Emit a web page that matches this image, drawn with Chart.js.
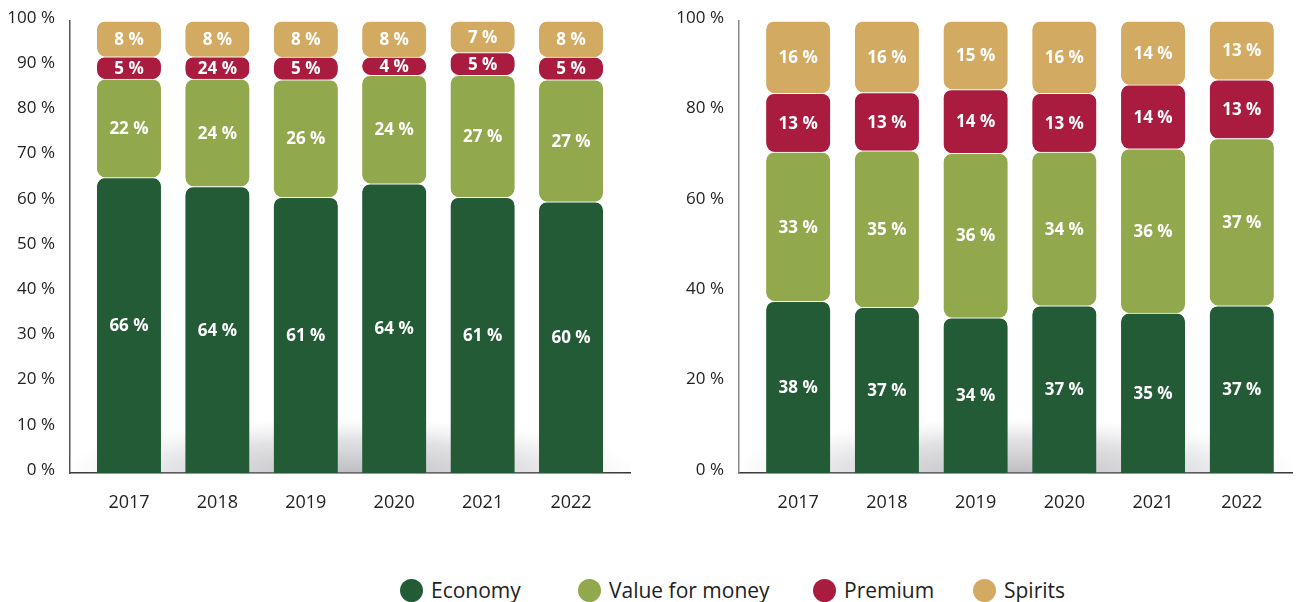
<!DOCTYPE html>
<html>
<head>
<meta charset="utf-8">
<script src="https://cdn.jsdelivr.net/npm/chart.js@4.4.0/dist/chart.umd.min.js"></script>
<style>
  html, body { margin:0; padding:0; background:#fff; width:1302px; height:602px; overflow:hidden; }
  .wrap { position:absolute; top:0; height:530px; }
  #wl { left:0; width:650px; }
  #wr { left:660px; width:642px; }
  .lg { position:absolute; top:578px; height:24px; display:flex; align-items:center;
        font-family:"Open Sans", sans-serif; font-size:21px; color:#222; white-space:nowrap; }
  .lg span.dot { display:inline-block; width:23px; height:23px; border-radius:50%; margin-right:8px; }
</style>
</head>
<body>
<div class="wrap" id="wl"><canvas id="cl"></canvas></div>
<div class="wrap" id="wr"><canvas id="cr"></canvas></div>
<div id="legend"></div>
<script>
// ---------- data ----------
const categories = [2017, 2018, 2019, 2020, 2021, 2022];
const seriesNames = ['Economy', 'Value for money', 'Premium', 'Spirits'];
const seriesColors = ['#235b37', '#92a84c', '#a91c3f', '#d3aa62'];

const leftEconomy = [66, 64, 61, 64, 61, 60];
const leftValue   = [22, 24, 26, 24, 27, 27];
const leftPremium = [5, 5, 5, 4, 5, 5];
const leftPremiumPrinted = [5, 24, 5, 4, 5, 5];   // label as printed in the source
const leftSpirits = [8, 8, 8, 8, 7, 8];

const rightEconomy = [38, 37, 34, 37, 35, 37];
const rightValue   = [33, 35, 36, 34, 36, 37];
const rightPremium = [13, 13, 14, 13, 14, 13];
const rightSpirits = [16, 16, 15, 16, 14, 13];

const leftTicks  = [0, 10, 20, 30, 40, 50, 60, 70, 80, 90, 100];
const rightTicks = [0, 20, 40, 60, 80, 100];

// ---------- helpers ----------
function shares(all) {
  // 100 % stacked: each year's segments scaled to the column total
  return all.map(s => s.map((v, j) => {
    const tot = all.reduce((a, t) => a + t[j], 0);
    return v / tot * 100;
  }));
}

const segLabelPlugin = {
  id: 'segLabels',
  afterDatasetsDraw(chart) {
    const ctx = chart.ctx;
    ctx.save();
    ctx.fillStyle = '#ffffff';
    ctx.font = 'bold 17px "Open Sans", sans-serif';
    ctx.textAlign = 'center';
    ctx.textBaseline = 'middle';
    chart.data.datasets.forEach((ds, i) => {
      const meta = chart.getDatasetMeta(i);
      meta.data.forEach((bar, j) => {
        const p = bar.getProps(['x', 'y', 'base'], true);
        ctx.fillText(ds.printed[j] + ' %', p.x, (p.y + p.base) / 2 + 1);
      });
    });
    ctx.restore();
  }
};

const shadowPlugin = {
  id: 'floorShadow',
  beforeDatasetsDraw(chart) {
    const {ctx, chartArea: a} = chart;
    ctx.save();
    ctx.beginPath();
    ctx.rect(a.left + 1, a.top, a.right - a.left, a.bottom - a.top);
    ctx.clip();
    const cx = (a.left + a.right) / 2;
    const rx = (a.right - a.left) / 2 + 10;
    const ry = 55;
    ctx.translate(cx, a.bottom);
    ctx.scale(1, ry / rx);
    const g = ctx.createRadialGradient(0, 0, 0, 0, 0, rx);
    g.addColorStop(0, 'rgba(145,145,152,0.6)');
    g.addColorStop(0.6, 'rgba(170,170,178,0.35)');
    g.addColorStop(1, 'rgba(200,200,205,0)');
    ctx.fillStyle = g;
    ctx.fillRect(-rx, -rx, rx * 2, rx);
    ctx.restore();
  }
};

function makeChart(id, raw, printed, ticks, xMax, yAxisWidth, yBorderColor, padRight) {
  const vals = shares(raw);
  const datasets = seriesNames.map((name, i) => ({
    label: name,
    data: categories.map((c, j) => ({ x: c, y: vals[i][j] })),
    printed: printed[i],
    backgroundColor: seriesColors[i],
    borderColor: '#ffffff',
    borderWidth: {top: 1, bottom: 0, left: 0, right: 0},
    borderSkipped: false,
    borderRadius: i === 0 ? {topLeft: 9, topRight: 9, bottomLeft: 0, bottomRight: 0}
                          : {topLeft: 9, topRight: 9, bottomLeft: 9, bottomRight: 9},
    barThickness: 64,
    stack: 's'
  }));
  return new Chart(document.getElementById(id), {
    type: 'bar',
    data: { datasets },
    plugins: [shadowPlugin, segLabelPlugin],
    options: {
      responsive: true,
      maintainAspectRatio: false,
      animation: false,
      layout: { padding: { top: 21, right: padRight, bottom: 0, left: 0 } },
      plugins: { legend: { display: false }, tooltip: { enabled: false } },
      scales: {
        x: {
          type: 'linear',
          stacked: true,
          offset: false,
          min: 2016.333,
          max: xMax,
          afterBuildTicks: s => { s.ticks = categories.map(v => ({ value: v })); },
          afterFit: s => { s.height = 57; s.paddingLeft = 0; s.paddingRight = 0; },
          grid: { display: false, drawTicks: false, offset: false },
          border: { display: true, color: '#333', width: 1.5 },
          ticks: {
            callback: v => String(v),
            padding: 19,
            color: '#222',
            font: { family: '"Open Sans", sans-serif', size: 18 },
            maxRotation: 0
          }
        },
        y: {
          stacked: true,
          min: 0,
          max: 100,
          afterBuildTicks: s => { s.ticks = ticks.map(v => ({ value: v })); },
          afterFit: s => { s.width = yAxisWidth; s.paddingTop = 0; s.paddingBottom = 0; },
          grid: { display: false, drawTicks: false },
          border: { display: true, color: yBorderColor, width: 1.5 },
          ticks: {
            callback: v => v + ' %',
            padding: 15,
            labelOffset: -3,
            color: '#222',
            font: { family: '"Open Sans", sans-serif', size: 17 }
          }
        }
      }
    }
  });
}

makeChart('cl',
  [leftEconomy, leftValue, leftPremium, leftSpirits],
  [leftEconomy, leftValue, leftPremiumPrinted, leftSpirits],
  leftTicks, 2022.667, 70, '#555', 20);
makeChart('cr',
  [rightEconomy, rightValue, rightPremium, rightSpirits],
  [rightEconomy, rightValue, rightPremium, rightSpirits],
  rightTicks, 2022.566, 79, '#888', 10);

// ---------- legend ----------
const legendLeft = [400, 578, 813, 973];
const lg = document.getElementById('legend');
seriesNames.forEach((n, i) => {
  const d = document.createElement('div');
  d.className = 'lg';
  d.style.left = legendLeft[i] + 'px';
  const dot = document.createElement('span');
  dot.className = 'dot';
  dot.style.background = seriesColors[i];
  d.appendChild(dot);
  d.appendChild(document.createTextNode(n));
  lg.appendChild(d);
});
</script>
</body>
</html>
